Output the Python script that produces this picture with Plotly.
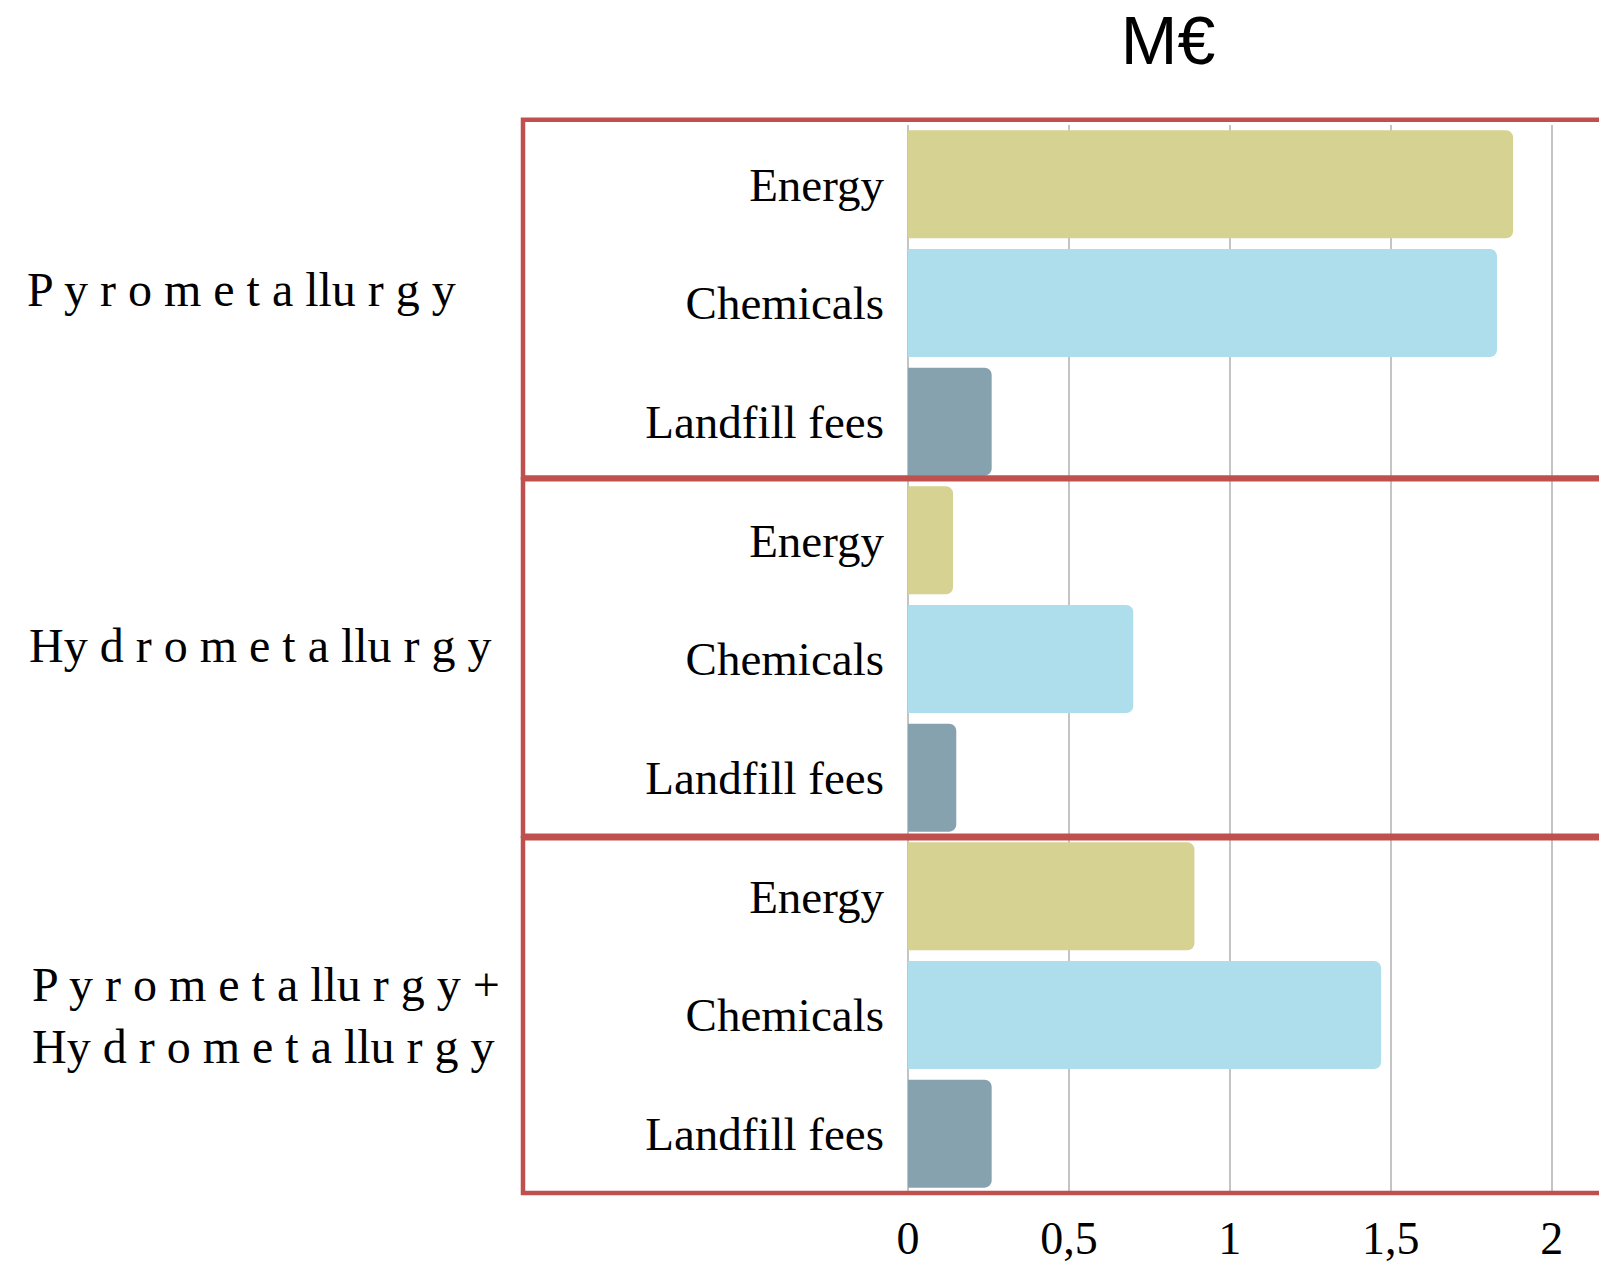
import plotly.graph_objects as go

# Cost breakdown per recycling route (M€)
groups = ["P y r o m e t a llu r g y",
          "Hy d r o m e t a llu r g y",
          "P y r o m e t a llu r g y +<br>Hy d r o m e t a llu r g y"]
items = ["Energy", "Chemicals", "Landfill fees"]
energy = [1.88, 0.14, 0.89]
chemicals = [1.83, 0.70, 1.47]
landfill = [0.26, 0.15, 0.26]
x_ticks = [0, 0.5, 1, 1.5, 2]

series = [(items[0], energy, "#D6D292"),
          (items[1], chemicals, "#AEDEEC"),
          (items[2], landfill, "#87A2AF")]

W, H = 1599, 1264
M_L, M_R, M_T, M_B = 908, 0, 125, 71
X_MAX = 2.147
plot_w = W - M_L - M_R

n_items = len(items)
n_rows = len(groups) * n_items

fig = go.Figure()
for i, (name, vals, color) in enumerate(series):
    fig.add_trace(go.Bar(
        name=name,
        orientation="h",
        x=vals,
        y=[g * n_items + i for g in range(len(groups))],
        width=0.91,
        marker=dict(color=color, line=dict(width=0), cornerradius=7),
        showlegend=False,
    ))

# Row labels: one per bar, in the same order as the bars
row_vals = list(range(n_rows))
row_text = [items[r % n_items] for r in row_vals]

serif = "Liberation Serif"


def px_to_paper_x(px):
    return (px - M_L) / plot_w


def row_to_paper_y(row):
    # reversed category axis spanning [-0.5, n_rows - 0.5]
    return (n_rows - 0.5 - row) / n_rows


# Red frames around each route group (paper coords so they are not clipped)
box_tops = [-0.545, 2.485, 5.51]
box_bottoms = [2.47, 5.49, 8.5]
for y0, y1 in zip(box_tops, box_bottoms):
    fig.add_shape(type="rect", xref="paper", yref="paper",
                  x0=px_to_paper_x(523), x1=1.02,
                  y0=row_to_paper_y(y0), y1=row_to_paper_y(y1),
                  line=dict(color="#C0504D", width=4.5),
                  fillcolor="rgba(0,0,0,0)", layer="above")

# Route group labels
label_x = [25, 27, 30]
label_shift = [14, 14, 0]
for g, text in enumerate(groups):
    fig.add_annotation(xref="paper", yref="y",
                       x=px_to_paper_x(label_x[g]), y=g * n_items + 1,
                       text=text, showarrow=False, xanchor="left",
                       yanchor="middle", align="left", yshift=label_shift[g],
                       font=dict(family=serif, size=48, color="black"))

fig.update_layout(
    width=W, height=H,
    margin=dict(l=M_L, r=M_R, t=M_T, b=M_B, pad=0),
    paper_bgcolor="white", plot_bgcolor="white",
    barmode="overlay",
    separators=", ",
    title=dict(text="M€", xref="container", yref="container",
               x=1168 / W, y=1 - 40 / H, xanchor="center", yanchor="middle",
               font=dict(family="Liberation Sans", size=68, color="black")),
    xaxis=dict(range=[0, X_MAX], tickvals=x_ticks, showgrid=True,
               gridcolor="#C4C4C4", gridwidth=1.5, zeroline=True,
               zerolinecolor="#C4C4C4", zerolinewidth=1.5, showline=False,
               ticks="", ticklabelstandoff=14, automargin=False,
               tickfont=dict(family=serif, size=46, color="black")),
    yaxis=dict(range=[n_rows - 0.5, -0.5], tickvals=row_vals, ticktext=row_text,
               showgrid=False, zeroline=False, showline=False, ticks="",
               ticklabelstandoff=23, automargin=False,
               tickfont=dict(family=serif, size=47, color="black")),
)

fig.write_html("out.html")
